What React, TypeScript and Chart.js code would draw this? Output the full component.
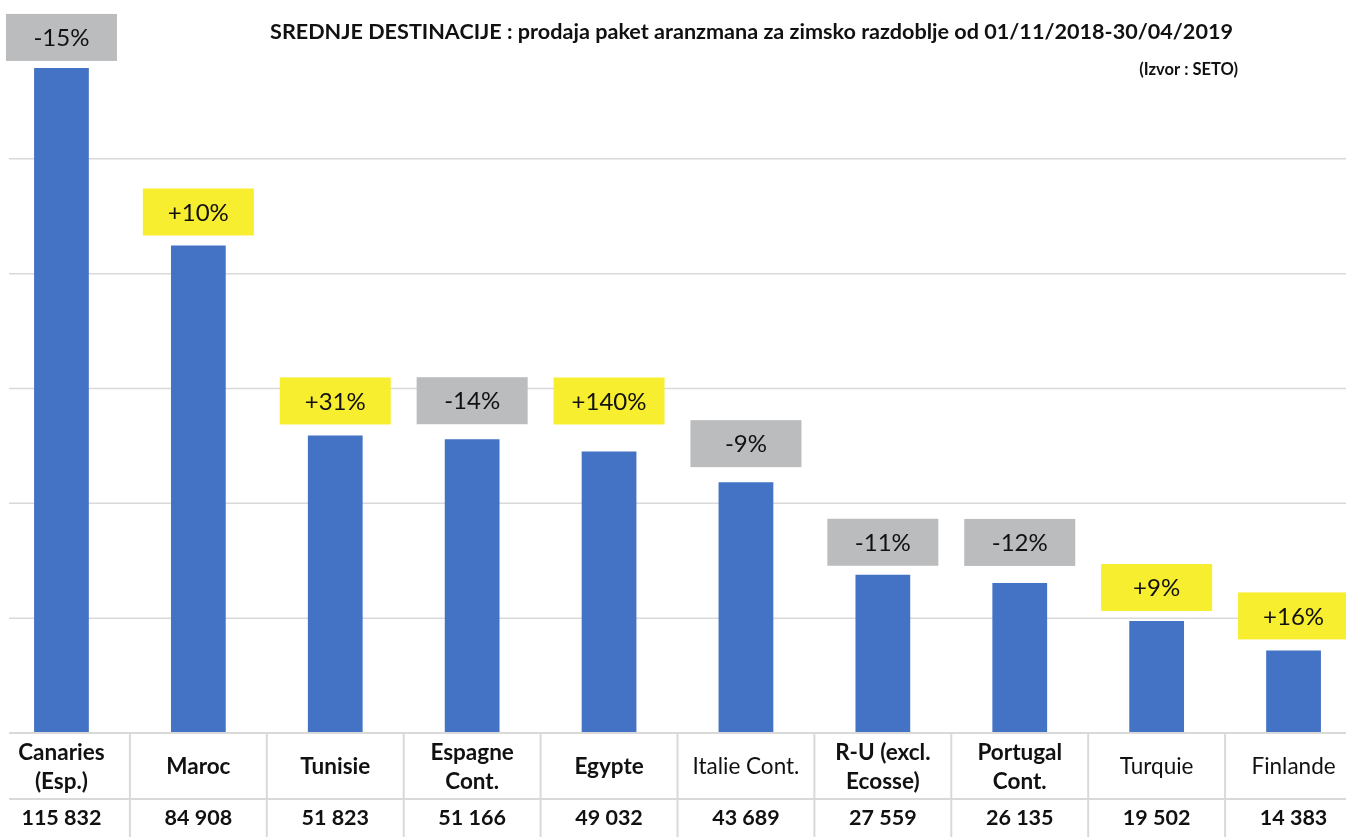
import React, { useEffect, useRef } from "react";
import { Chart, registerables } from "chart.js";

Chart.register(...registerables);

// ---------- data ----------
const categories: string[][] = [
  ["Canaries", "(Esp.)"],
  ["Maroc"],
  ["Tunisie"],
  ["Espagne", "Cont."],
  ["Egypte"],
  ["Italie Cont."],
  ["R-U (excl.", "Ecosse)"],
  ["Portugal", "Cont."],
  ["Turquie"],
  ["Finlande"],
];
const sales = [115832, 84908, 51823, 51166, 49032, 43689, 27559, 26135, 19502, 14383];
const changes = ["-15%", "+10%", "+31%", "-14%", "+140%", "-9%", "-11%", "-12%", "+9%", "+16%"];
const gridValues = [20000, 40000, 60000, 80000, 100000];
const TITLE = "SREDNJE DESTINACIJE : prodaja paket aranzmana za zimsko razdoblje od 01/11/2018-30/04/2019";
const SOURCE = "(Izvor : SETO)";

// ---------- style ----------
const labelBold = [true, true, true, true, true, false, true, true, false, false];
const labelGaps = [7, 10, 11, 15, 27, 15, 9, 17, 10, 11];
const FONT = "Lato";
const BAR = "#4472C4";
const GRID = "#D9D9D9";
const GRAY_BOX = "#BABCBE";
const YELLOW_BOX = "#F7EE2F";
const TEXT = "#111111";
const CANVAS_W = 1369;
const CANVAS_H = 837;
const SHIFT = 7;

function fmt(n: number): string {
  const s = String(n);
  const out: string[] = [];
  for (let i = s.length; i > 0; i -= 3) out.unshift(s.slice(Math.max(0, i - 3), i));
  return out.join(" ");
}

const overlay = {
  id: "overlay",
  beforeDatasetsDraw(chart: any) {
    const { ctx, chartArea } = chart;
    const y = chart.scales.y;
    ctx.save();
    ctx.strokeStyle = GRID;
    ctx.lineWidth = 1.5;
    gridValues.forEach((v) => {
      const py = y.getPixelForValue(v);
      ctx.beginPath();
      ctx.moveTo(9 + SHIFT, py);
      ctx.lineTo(chartArea.right, py);
      ctx.stroke();
    });
    ctx.restore();
  },
  afterDatasetsDraw(chart: any) {
    const { ctx, chartArea } = chart;
    const x = chart.scales.x;
    const y = chart.scales.y;
    const y0 = y.getPixelForValue(0);
    const rowH = 66;
    ctx.save();

    // table lines
    ctx.strokeStyle = GRID;
    ctx.lineWidth = 2;
    [y0, y0 + rowH].forEach((py) => {
      ctx.beginPath();
      ctx.moveTo(9 + SHIFT, py);
      ctx.lineTo(chartArea.right, py);
      ctx.stroke();
    });
    for (let i = 0; i < categories.length - 1; i++) {
      const px = (x.getPixelForValue(i) + x.getPixelForValue(i + 1)) / 2;
      ctx.beginPath();
      ctx.moveTo(px, y0);
      ctx.lineTo(px, CANVAS_H);
      ctx.stroke();
    }

    // category labels and values
    ctx.fillStyle = TEXT;
    ctx.textAlign = "center";
    ctx.textBaseline = "middle";
    const lineH = 29;
    const rowCenter = y0 + rowH / 2 + 1;
    categories.forEach((lines, i) => {
      const cx = x.getPixelForValue(i);
      ctx.font = `${labelBold[i] ? "bold " : ""}22.5px ${FONT}`;
      lines.forEach((ln, k) => {
        ctx.fillText(ln, cx, rowCenter - ((lines.length - 1) * lineH) / 2 + k * lineH);
      });
      ctx.font = `bold 21.5px ${FONT}`;
      ctx.fillText(fmt(sales[i]), cx, y0 + rowH + 19);
    });

    // change boxes
    const meta = chart.getDatasetMeta(0);
    const bw = 111;
    const bh = 47;
    meta.data.forEach((bar: any, i: number) => {
      const cx = bar.x;
      const bottom = bar.y - labelGaps[i];
      ctx.fillStyle = changes[i].startsWith("-") ? GRAY_BOX : YELLOW_BOX;
      ctx.fillRect(cx - bw / 2, bottom - bh, bw, bh);
      ctx.fillStyle = TEXT;
      ctx.font = `24px ${FONT}`;
      ctx.fillText(changes[i], cx, bottom - bh / 2 + 1);
    });

    // title
    ctx.font = `bold 20px ${FONT}`;
    const w = ctx.measureText(TITLE).width;
    const size = (20 * 963) / w;
    ctx.font = `bold ${size.toFixed(2)}px ${FONT}`;
    ctx.fillText(TITLE, 751.5 + SHIFT, 32);
    ctx.font = `bold 16.5px ${FONT}`;
    ctx.textAlign = "right";
    ctx.fillText(SOURCE, 1238 + SHIFT, 70);
    ctx.restore();
  },
};

export default function App() {
  const ref = useRef<HTMLCanvasElement | null>(null);
  useEffect(() => {
    if (!ref.current) return;
    const chart = new Chart(ref.current, {
      type: "bar",
      data: {
        labels: categories.map((c) => c.join(" ")),
        datasets: [
          {
            data: sales,
            backgroundColor: BAR,
            borderWidth: 0,
            barPercentage: 0.4,
            categoryPercentage: 1,
          },
        ],
      },
      options: {
        responsive: false,
        animation: false,
        layout: { padding: { top: 44, bottom: 104, left: 0, right: 0 } },
        plugins: { legend: { display: false }, tooltip: { enabled: false }, title: { display: false } },
        scales: {
          x: { display: false },
          y: { display: false, min: 0, max: 120000 },
        },
      },
      plugins: [overlay],
    });
    return () => chart.destroy();
  }, []);
  return (
    <div
      style={{
        position: "absolute",
        left: 0,
        top: 0,
        width: 1346,
        height: 837,
        overflow: "hidden",
        background: "#fff",
      }}
    >
      <canvas
        ref={ref}
        width={CANVAS_W}
        height={CANVAS_H}
        style={{ position: "absolute", left: -SHIFT, top: 0 }}
      />
    </div>
  );
}
